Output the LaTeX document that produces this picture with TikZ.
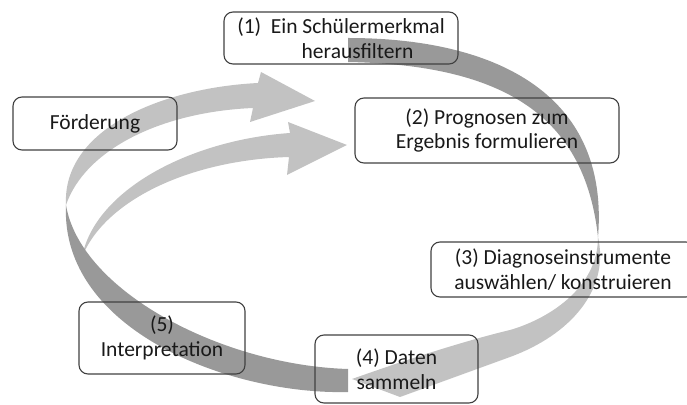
\documentclass[tikz,border=0pt]{standalone}
\usepackage{fontspec}
\setmainfont{Carlito}
\definecolor{frontcol}{rgb}{0.6,0.6,0.6}
\definecolor{backcol}{rgb}{0.76,0.76,0.76}
\definecolor{boxcol}{rgb}{0.25,0.25,0.25}
\definecolor{textcol}{rgb}{0.1,0.1,0.1}
\tikzset{stage/.style={draw=boxcol, line width=1.1bp, rounded corners=9bp, align=center,
  inner sep=0pt, text=textcol, font=\fontsize{21.5bp}{24.5bp}\selectfont}}
\begin{document}
\begin{tikzpicture}[line join=bevel,]
  \pgfsetlinewidth{1bp}
  \useasboundingbox (0bp,0bp) rectangle (687bp,405bp);
%%
  % Ribbon: back side, right -> (4)
  \fill[backcol] (598bp,168bp) .. controls (610bp,115bp) and (570bp,70bp) .. (510bp,48bp) -- (400bp,8bp) -- (352bp,26bp)
    .. controls (400bp,43bp) and (460bp,63bp) .. (510bp,75bp) .. controls (545bp,85bp) and (598bp,115bp) .. (598bp,168bp) -- cycle;
  % Ribbon: back side, left -> (1)
  \fill[backcol] (66bp,200bp) .. controls (62bp,275bp) and (160bp,317bp) .. (258bp,322bp) -- (261bp,333bp) -- (315bp,304bp)
    -- (250bp,283bp) -- (253bp,297bp) .. controls (160bp,293bp) and (85bp,255bp) .. (66bp,200bp) -- cycle;
  % Ribbon: inner arrow -> (2)
  \fill[backcol] (82bp,148bp) .. controls (95bp,215bp) and (190bp,265bp) .. (290bp,272bp) -- (288bp,283bp) -- (347bp,260bp)
    -- (287bp,230bp) -- (289bp,248bp) .. controls (190bp,245bp) and (105bp,205bp) .. (82bp,148bp) -- cycle;
  % Ribbon: front side, top
  \fill[frontcol] (348bp,367bp) .. controls (490bp,367bp) and (610bp,315bp) .. (598bp,168bp)
    .. controls (585bp,285bp) and (510bp,340bp) .. (348bp,343bp) -- cycle;
  % Ribbon: front side, bottom
  \fill[frontcol] (348bp,36bp) -- (348bp,13bp) .. controls (230bp,10bp) and (60bp,75bp) .. (66bp,200bp)
    .. controls (80bp,115bp) and (220bp,40bp) .. (348bp,36bp) -- cycle;
  % Node: s1
  \node[stage, minimum width=234bp, minimum height=52bp] (s1) at (341bp,367bp) {(1)~~Ein Schülermerkmal\\\hspace*{33bp}herausfiltern};
  % Node: foerd
  \node[stage, minimum width=164bp, minimum height=53bp] (foerd) at (95bp,281.5bp) {Förderung};
  % Node: s2
  \node[stage, minimum width=264bp, minimum height=65bp] (s2) at (487bp,274.5bp) {(2) Prognosen zum\\Ergebnis formulieren};
  % Node: s3
  \node[stage, minimum width=264bp, minimum height=55bp] (s3) at (563bp,135.5bp) {(3) Diagnoseinstrumente\\auswählen/ konstruieren};
  % Node: s4
  \node[stage, minimum width=163bp, minimum height=68bp] (s4) at (396.5bp,36bp) {(4) Daten\\sammeln};
  % Node: s5
  \node[stage, minimum width=166bp, minimum height=72bp] (s5) at (162bp,67bp) {(5)\\Interpretation};
%
\end{tikzpicture}
\end{document}
